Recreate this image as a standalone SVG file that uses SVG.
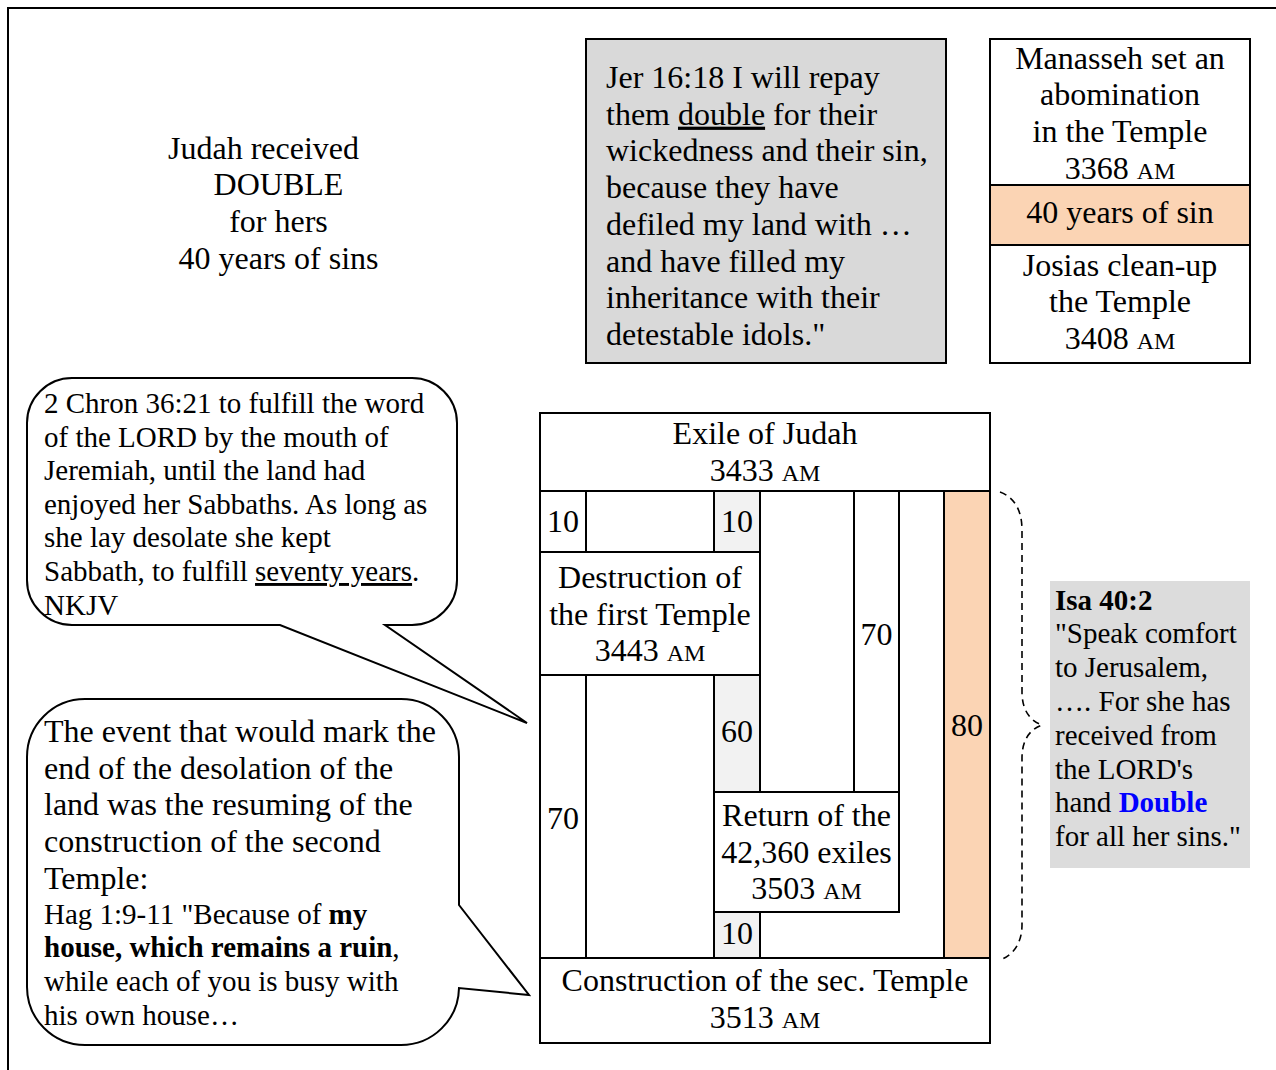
<svg xmlns="http://www.w3.org/2000/svg" width="1276" height="1070" viewBox="0 0 1276 1070">
<style>
text{font-family:"Liberation Serif","Times New Roman",serif;fill:#000}
.f32{font-size:32px}
.f29{font-size:29px}
.am{font-size:24px}
.mid{text-anchor:middle}
.box{fill:#fff;stroke:#000;stroke-width:2}
.gray{fill:#d9d9d9;stroke:#000;stroke-width:2}
.shade{fill:#f2f2f2;stroke:#000;stroke-width:2}
.peach{fill:#fbd4b4;stroke:#000;stroke-width:2}
.bubble{fill:#fff;stroke:#000;stroke-width:2;stroke-linejoin:miter}
.brace{fill:none;stroke:#000;stroke-width:1.6;stroke-dasharray:7 5}
.u{text-decoration:underline}
</style>
<rect x="0" y="0" width="1276" height="1070" fill="#fff"/>
<path d="M8,1070 V8 H1276" fill="none" stroke="#000" stroke-width="2"/>

<g id="title">
<text class="f32" x="168" y="158.5">Judah received</text>
<text class="f32 mid" x="278.5" y="195.2">DOUBLE</text>
<text class="f32 mid" x="278.5" y="231.9">for hers</text>
<text class="f32 mid" x="278.5" y="268.6">40 years of sins</text>
</g>

<g id="jer-box">
<rect class="gray" x="586" y="39" width="360" height="324"/>
<text class="f32" x="606" y="88">Jer 16:18 I will repay</text>
<text class="f32" x="606" y="124.7">them <tspan class="u">double</tspan> for their</text>
<text class="f32" x="606" y="161.4">wickedness and their sin,</text>
<text class="f32" x="606" y="198.1">because they have</text>
<text class="f32" x="606" y="234.8">defiled my land with …</text>
<text class="f32" x="606" y="271.5">and have filled my</text>
<text class="f32" x="606" y="308.2">inheritance with their</text>
<text class="f32" x="606" y="344.9">detestable idols."</text>
</g>

<g id="manasseh">
<rect class="box" x="990" y="39" width="260" height="146"/>
<text class="f32 mid" x="1120" y="68.5">Manasseh set an</text>
<text class="f32 mid" x="1120" y="105.2">abomination</text>
<text class="f32 mid" x="1120" y="141.9">in the Temple</text>
<text class="f32 mid" x="1120" y="178.6">3368 <tspan class="am">AM</tspan></text>
</g>
<g id="forty-years">
<rect class="peach" x="990" y="185" width="260" height="60"/>
<text class="f32 mid" x="1120" y="223">40 years of sin</text>
</g>
<g id="josias">
<rect class="box" x="990" y="245" width="260" height="118"/>
<text class="f32 mid" x="1120" y="275.5">Josias clean-up</text>
<text class="f32 mid" x="1120" y="312.2">the Temple</text>
<text class="f32 mid" x="1120" y="348.9">3408 <tspan class="am">AM</tspan></text>
</g>

<g id="chron-callout">
<path class="bubble" d="M72,378 H412 A45,45 0 0 1 457,423 V580 A45,45 0 0 1 412,625 H385 L527,723 L280,625 H72 A45,45 0 0 1 27,580 V423 A45,45 0 0 1 72,378 Z"/>
<text class="f29" x="44" y="413">2 Chron 36:21 to fulfill the word</text>
<text class="f29" x="44" y="446.6">of the LORD by the mouth of</text>
<text class="f29" x="44" y="480.2">Jeremiah, until the land had</text>
<text class="f29" x="44" y="513.8">enjoyed her Sabbaths. As long as</text>
<text class="f29" x="44" y="547.4">she lay desolate she kept</text>
<text class="f29" x="44" y="581">Sabbath, to fulfill <tspan class="u">seventy years</tspan>.</text>
<text class="f29" x="44" y="614.6">NKJV</text>
</g>

<g id="hag-callout">
<path class="bubble" d="M85,699 H401 A58,58 0 0 1 459,757 V905 L529,995 L459,988 A58,58 0 0 1 401,1045 H85 A58,58 0 0 1 27,987 V757 A58,58 0 0 1 85,699 Z"/>
<text class="f32" x="44" y="742">The event that would mark the</text>
<text class="f32" x="44" y="778.7">end of the desolation of the</text>
<text class="f32" x="44" y="815.4">land was the resuming of the</text>
<text class="f32" x="44" y="852.1">construction of the second</text>
<text class="f32" x="44" y="888.8">Temple:</text>
<text class="f29" x="44" y="923.5">Hag 1:9-11 "Because of <tspan font-weight="bold">my</tspan></text>
<text class="f29" x="44" y="957.2"><tspan font-weight="bold">house, which remains a ruin</tspan>,</text>
<text class="f29" x="44" y="990.9">while each of you is busy with</text>
<text class="f29" x="44" y="1024.6">his own house…</text>
</g>

<g id="grid-cells">
<rect class="box" x="540" y="491" width="450" height="467"/>
<rect class="box" x="540" y="491" width="46" height="61"/>
<rect class="box" x="586" y="491" width="128" height="61"/>
<rect class="shade" x="714" y="491" width="46" height="61"/>
<rect class="box" x="760" y="491" width="94" height="301"/>
<rect class="box" x="854" y="491" width="45" height="301"/>
<rect class="peach" x="944" y="491" width="46" height="467"/>
<rect class="box" x="540" y="675" width="46" height="283"/>
<rect class="box" x="586" y="675" width="128" height="283"/>
<rect class="shade" x="714" y="675" width="46" height="117"/>
<rect class="shade" x="714" y="912" width="46" height="46"/>
<text class="f32 mid" x="563" y="532">10</text>
<text class="f32 mid" x="737" y="532">10</text>
<text class="f32 mid" x="876.5" y="645">70</text>
<text class="f32 mid" x="967" y="736">80</text>
<text class="f32 mid" x="737" y="742">60</text>
<text class="f32 mid" x="563" y="829">70</text>
<text class="f32 mid" x="737" y="944">10</text>
</g>

<g id="exile">
<rect class="box" x="540" y="413" width="450" height="78"/>
<text class="f32 mid" x="765" y="443.5">Exile of Judah</text>
<text class="f32 mid" x="765" y="481">3433 <tspan class="am">AM</tspan></text>
</g>

<g id="destruction">
<rect class="box" x="540" y="552" width="220" height="123"/>
<text class="f32 mid" x="650" y="588">Destruction of</text>
<text class="f32 mid" x="650" y="624.7">the first Temple</text>
<text class="f32 mid" x="650" y="661.4">3443 <tspan class="am">AM</tspan></text>
</g>

<g id="return">
<rect class="box" x="714" y="792" width="185" height="120"/>
<text class="f32 mid" x="806.5" y="826">Return of the</text>
<text class="f32 mid" x="806.5" y="862.7">42,360 exiles</text>
<text class="f32 mid" x="806.5" y="899.4">3503 <tspan class="am">AM</tspan></text>
</g>

<g id="construction">
<rect class="box" x="540" y="958" width="450" height="85"/>
<text class="f32 mid" x="765" y="991">Construction of the sec. Temple</text>
<text class="f32 mid" x="765" y="1027.7">3513 <tspan class="am">AM</tspan></text>
</g>

<g id="isa-box">
<rect x="1050" y="581" width="200" height="287" fill="#dcdcdc"/>
<text class="f29" x="1055" y="609.5" font-weight="bold">Isa 40:2</text>
<text class="f29" x="1055" y="643.3">"Speak comfort</text>
<text class="f29" x="1055" y="677.1">to Jerusalem,</text>
<text class="f29" x="1055" y="710.9">…. For she has</text>
<text class="f29" x="1055" y="744.7">received from</text>
<text class="f29" x="1055" y="778.5">the LORD's</text>
<text class="f29" x="1055" y="812.3">hand <tspan font-weight="bold" fill="#0000ff">Double</tspan></text>
<text class="f29" x="1055" y="846.1">for all her sins."</text>
</g>

<g id="connectors">
<path class="brace" d="M1000,492 C1014,497 1022,510 1022,530 V692 C1022,710 1030,721 1042,725 C1030,729 1022,740 1022,758 V925 C1022,942 1014,955 1000,960"/>
</g>
</svg>
